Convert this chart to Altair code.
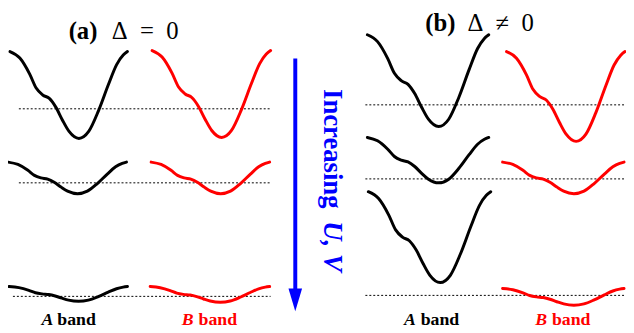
import altair as alt
import pandas as pd

# ---- band-shape profile (fraction across band, fraction of depth)
shape_t = [0, .084, .168, .223, .279, .335, .39, .447, .503, .587, .67, .754, .838, .908, .964, 1]
shape_d = [0, .075, .26, .42, .50, .54, .64, .79, .92, 1.0, .92, .68, .38, .15, .04, 0]

# ---- curves: k range and energy top / minimum (schematic units)
curve_id = ["a-A1", "a-B1", "a-A2", "a-B2", "a-A3", "a-B3",
            "b-A1", "b-B1", "b-A2", "b-B2", "b-A3", "b-B3"]
curve_band = ["A", "B", "A", "B", "A", "B", "A", "B", "A", "B", "A", "B"]
k_left = [10, 154, 8, 153, 9, 152, 372, 513, 372, 509, 373, 509]
k_right = [129, 274, 128, 273, 129, 273, 495, 633, 495, 632, 497, 632]
e_top = [50, 49, 162, 162, 288, 288, 33, 50, 137, 162, 192, 290]
e_min = [138, 137, 194, 194, 303, 304, 126, 141, 183, 194, 284, 307]

# ---- dotted reference levels
lvl_e = [108, 183, 298, 104, 179, 297]
lvl_k1 = [19, 19, 13, 370, 370, 370]
lvl_k2 = [274, 274, 274, 632, 632, 632]

rows = []
for cid, b, l, r, t0, m in zip(curve_id, curve_band, k_left, k_right, e_top, e_min):
    for t, d in zip(shape_t, shape_d):
        rows.append({"id": cid, "band": b, "k": l + t * (r - l), "E": t0 + d * (m - t0)})
curves = pd.DataFrame(rows)
levels = pd.DataFrame({"E": lvl_e, "k1": lvl_k1, "k2": lvl_k2})


def X(f):
    return alt.X(f, scale=alt.Scale(domain=[8, 634]), axis=None)


def Y(f):
    return alt.Y(f, scale=alt.Scale(domain=[8, 333], reverse=True), axis=None)


lines = alt.Chart(curves).mark_line(interpolate="monotone", strokeWidth=3, strokeCap="round").encode(
    x=X("k:Q"), y=Y("E:Q"), detail="id:N",
    color=alt.Color("band:N", scale=alt.Scale(domain=["A", "B"], range=["#000000", "#ff0000"]), legend=None),
)

dots = alt.Chart(levels).mark_rule(color="black", strokeWidth=1, strokeDash=[2, 2]).encode(
    x=X("k1:Q"), x2="k2:Q", y=Y("E:Q")
)

arrow_df = pd.DataFrame({"k": [299], "E1": [57], "E2": [292], "Eh": [301.5]})
arrow = alt.Chart(arrow_df).mark_rule(color="#0000ff", strokeWidth=4).encode(
    x=X("k:Q"), y=Y("E1:Q"), y2="E2:Q"
)
head = alt.Chart(arrow_df).mark_point(
    shape="M-0.6,-1L0.6,-1L0,1Z", filled=True, color="#0000ff", opacity=1, size=529, strokeWidth=0
).encode(x=X("k:Q"), y=Y("Eh:Q"))


def txt(df, **kw):
    return alt.Chart(df).mark_text(font="Liberation Serif", baseline="middle", **kw).encode(
        x=X("x:Q"), y=Y("y:Q"), text="t:N"
    )


title_bold = txt(pd.DataFrame({"x": [84, 446], "y": [29, 21], "t": ["(a)", "(b)"]}),
                 fontSize=25, fontWeight="bold", color="black")
title_math = txt(pd.DataFrame({"x": [147, 507], "y": [29, 21],
                               "t": ["Δ\u2002=\u20020", "Δ\u2002≠\u20020"]}),
                 fontSize=25, color="black")

lab_A = txt(pd.DataFrame({"x": [54, 421], "y": [322, 322], "t": ["A", "A"]}),
            fontSize=18, fontWeight="bold", fontStyle="italic", align="right", color="black")
lab_B = txt(pd.DataFrame({"x": [196, 554], "y": [322, 322], "t": ["B", "B"]}),
            fontSize=18, fontWeight="bold", fontStyle="italic", align="right", color="#ff0000")
band_A = txt(pd.DataFrame({"x": [58, 426], "y": [322, 322], "t": ["band", "band"]}),
             fontSize=18, fontWeight="bold", align="left", color="black")
band_B = txt(pd.DataFrame({"x": [201, 559], "y": [322, 322], "t": ["band", "band"]}),
             fontSize=18, fontWeight="bold", align="left", color="#ff0000")

inc = txt(pd.DataFrame({"x": [336], "y": [88], "t": ["Increasing"]}),
          fontSize=27, fontWeight="bold", angle=90, align="left", color="#0000ff")
uv = txt(pd.DataFrame({"x": [336], "y": [273], "t": ["U, V"]}),
         fontSize=27, fontWeight="bold", fontStyle="italic", angle=90, align="right", color="#0000ff")

chart = alt.layer(
    dots, lines, arrow, head, title_bold, title_math, lab_A, lab_B, band_A, band_B, inc, uv
).properties(
    width=626, height=325,
    autosize=alt.AutoSizeParams(type="none"),
    padding=0,
    background="white",
).configure_view(stroke=None)

chart.save("out.html", embed_options={"renderer": "svg", "actions": False})
